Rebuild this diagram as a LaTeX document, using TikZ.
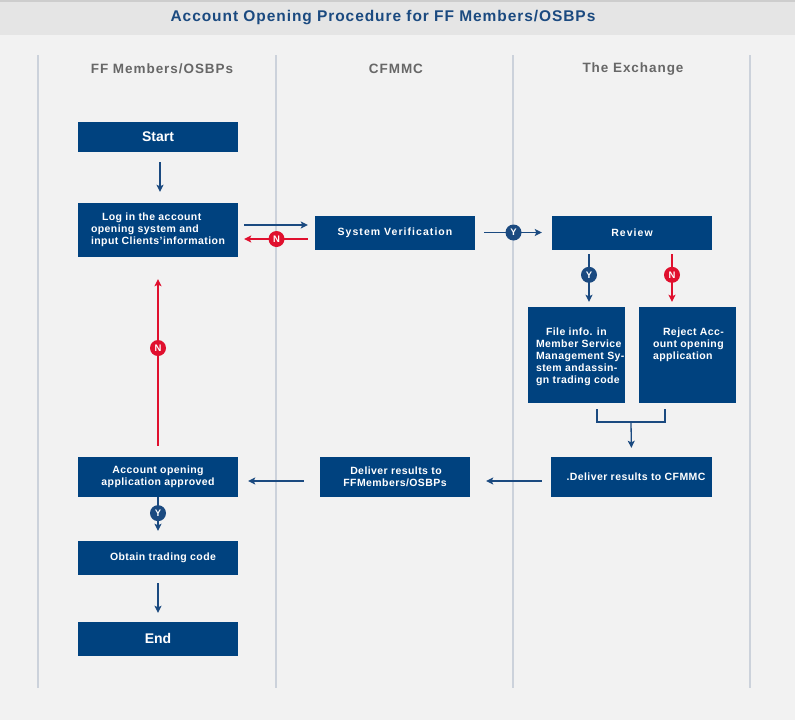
\documentclass[tikz,border=0pt]{standalone}
\usepackage{fontspec}
\setmainfont{Liberation Sans}
\newfontfamily\boxfont[LetterSpace=4]{Liberation Sans}
\newfontfamily\widefont[LetterSpace=10]{Liberation Sans}
\newfontfamily\headfont[LetterSpace=7]{Liberation Sans}
\newfontfamily\titlefont[LetterSpace=6]{Liberation Sans}
\usetikzlibrary{arrows.meta}
\definecolor{bg}{HTML}{F2F2F2}
\definecolor{band}{HTML}{E5E5E5}
\definecolor{bandline}{HTML}{CDCDCD}
\definecolor{boxblue}{HTML}{00427F}
\definecolor{arrblue}{HTML}{1B4A80}
\definecolor{myred}{HTML}{E0102E}
\definecolor{lanegray}{HTML}{CCD2DB}
\definecolor{headgray}{HTML}{676767}
\tikzset{
  fbox/.style={fill=boxblue, draw=none, text=white, inner sep=0pt, align=center,
    font=\boxfont\bfseries\fontsize{10.5}{12}\selectfont},
  btxt/.style={text=white, inner sep=0pt, align=left, anchor=north west,
    font=\boxfont\bfseries\fontsize{10.5}{12}\selectfont},
  arr/.style={draw=arrblue, line width=1.3pt, -{Stealth[length=7pt,width=7pt,inset=1.5pt]}},
  rarr/.style={draw=myred, line width=1.3pt, -{Stealth[length=7pt,width=7pt,inset=1.5pt]}},
  bline/.style={draw=arrblue, line width=1.3pt},
  ycirc/.style={circle, fill=arrblue, text=white, inner sep=0pt, minimum size=16pt,
    font=\bfseries\fontsize{9.5}{10}\selectfont},
  ncirc/.style={circle, fill=myred, text=white, inner sep=0pt, minimum size=16pt,
    font=\bfseries\fontsize{9.5}{10}\selectfont},
  lane/.style={draw=lanegray, line width=1.3pt},
  lanehead/.style={text=headgray, font=\headfont\bfseries\fontsize{13.5}{15}\selectfont}
}
\begin{document}
\begin{tikzpicture}[x=1pt,y=-1pt]
\useasboundingbox (0,0) rectangle (795,720);
\fill[bg] (0,0) rectangle (795,720);
\fill[band] (0,0) rectangle (795,35);
\fill[bandline] (0,0) rectangle (795,2);
\node[text=arrblue, font=\titlefont\bfseries\fontsize{15.5}{17}\selectfont] (title) at (383,17.5) {Account Opening Procedure for FF Members/OSBPs};
% lanes
\draw[lane] (38,55) coordinate (l1a) -- (38,688) coordinate (l1b);
\draw[lane] (276,55) coordinate (l2a) -- (276,688) coordinate (l2b);
\draw[lane] (513,55) coordinate (l3a) -- (513,688) coordinate (l3b);
\draw[lane] (750,55) coordinate (l4a) -- (750,688) coordinate (l4b);
\node[lanehead] (h1) at (162,69) {FF Members/OSBPs};
\node[lanehead] (h2) at (396,69) {CFMMC};
\node[lanehead] (h3) at (633,69) {The Exchange};
% boxes
\node[fbox, minimum width=160pt, minimum height=30pt, font=\bfseries\fontsize{14}{16}\selectfont] (start) at (158,137) {Start};
\node[fbox, minimum width=160pt, minimum height=54pt, align=left] (login) at (158,230) {\hspace*{11pt}Log in the account\\opening system and\\input Clients’information};
\node[fbox, minimum width=160pt, minimum height=34pt, font=\widefont\bfseries\fontsize{10.5}{12}\selectfont] (sysver) at (395,232.5) {System Verification};
\node[fbox, minimum width=160pt, minimum height=34pt, font=\widefont\bfseries\fontsize{10.5}{12}\selectfont] (review) at (632,232.5) {Review};
\node[fbox, minimum width=97pt, minimum height=96pt] (fileinfo) at (576.5,355) {};
\node[btxt] (fileinfot) at ([xshift=8pt,yshift=-21pt]fileinfo.north west) {\hspace*{10pt}File info. in\\Member Service\\Management Sy-\\stem andassin-\\gn trading code};
\node[fbox, minimum width=97pt, minimum height=96pt] (reject) at (687.5,355) {};
\node[btxt] (rejectt) at ([xshift=14pt,yshift=-21pt]reject.north west) {\hspace*{10pt}Reject Acc-\\ount opening\\application};
\node[fbox, minimum width=161pt, minimum height=40pt] (delc) at (631.5,477) {\hspace*{9pt}.Deliver results to CFMMC};
\node[fbox, minimum width=150pt, minimum height=40pt] (delf) at (395,477) {\hspace*{2pt}Deliver results to\\FFMembers/OSBPs};
\node[fbox, minimum width=160pt, minimum height=40pt] (approved) at (158,477) {Account opening\\application approved};
\node[fbox, minimum width=160pt, minimum height=34pt] (obtain) at (158,557.5) {\hspace*{10pt}Obtain trading code};
\node[fbox, minimum width=160pt, minimum height=34pt, font=\bfseries\fontsize{14}{16}\selectfont] (end) at (158,638.5) {End};
% connectors
\draw[arr, shorten <=10pt, shorten >=11pt] ([xshift=2pt]start.south) -- ([xshift=2pt]login.north);
\draw[arr, shorten <=6pt, shorten >=7pt] ([yshift=5pt]login.east) -- ([yshift=7.5pt]sysver.west);
\draw[rarr, shorten <=7pt, shorten >=6pt] ([yshift=-6.5pt]sysver.west) -- node[ncirc] (n1) {N} ([yshift=-9pt]login.east);
\draw[arr, shorten <=9pt, shorten >=10pt] (sysver.east) -- node[ycirc] (y1) {Y} (review.west);
\draw[arr, shorten <=4.5pt, shorten >=5pt] ([xshift=-43pt]review.south) -- node[ycirc, pos=0.44] (y2) {Y} ([xshift=12.5pt]fileinfo.north);
\draw[rarr, shorten <=4.5pt, shorten >=5pt] ([xshift=40pt]review.south) -- node[ncirc, pos=0.44] (n2) {N} ([xshift=-15.5pt]reject.north);
\coordinate (merge) at (631,422);
\draw[bline, shorten <=6pt, shorten >=6pt] ([xshift=20.5pt]fileinfo.south) |- (merge) -| ([xshift=-22.5pt]reject.south);
\draw[arr, shorten >=9pt] (merge) -- (delc.north);
\draw[arr, shorten <=9pt, shorten >=16pt] ([yshift=-4pt]delc.west) -- ([yshift=-4pt]delf.east);
\draw[arr, shorten <=16pt, shorten >=10pt] ([yshift=-4pt]delf.west) -- ([yshift=-4pt]approved.east);
\draw[rarr, shorten <=11pt, shorten >=22pt] (approved.north) -- node[ncirc, pos=0.545] (n3) {N} (login.south);
\draw[arr, shorten >=9.5pt] (approved.south) -- node[ycirc, pos=0.37] (y3) {Y} (obtain.north);
\draw[arr, shorten <=8.5pt, shorten >=8.5pt] (obtain.south) -- (end.north);
\end{tikzpicture}
\end{document}
